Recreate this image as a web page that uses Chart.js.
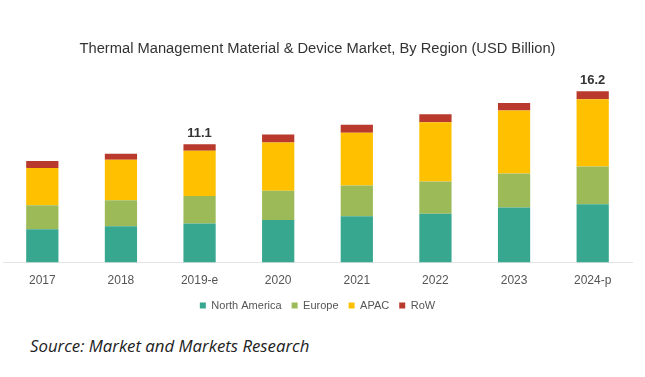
<!DOCTYPE html>
<html>
<head>
<meta charset="utf-8">
<script src="https://cdn.jsdelivr.net/npm/chart.js@4.4.0/dist/chart.umd.min.js"></script>
<style>
  html, body { margin: 0; padding: 0; background: #fff; }
  #wrap { position: relative; width: 645px; height: 377px; }
  #chart { position: absolute; left: 0; top: 0; }
  #source {
    position: absolute; left: 30px; top: 334px;
    font-family: "Open Sans", "Liberation Sans", sans-serif;
    font-style: italic; font-size: 16.8px; color: #222;
  }
</style>
</head>
<body>
<div id="wrap">
  <canvas id="chart" width="645" height="325"></canvas>
  <div id="source">Source: Market and Markets Research</div>
</div>
<script>
const years = ['2017', '2018', '2019-e', '2020', '2021', '2022', '2023', '2024-p'];
const northAmerica = [3.15, 3.43, 3.68, 4.02, 4.37, 4.6, 5.18, 5.49];
const europe = [2.25, 2.44, 2.6, 2.76, 2.9, 3.05, 3.22, 3.57];
const apac = [3.5, 3.82, 4.26, 4.54, 4.96, 5.57, 5.92, 6.32];
const row = [0.66, 0.56, 0.62, 0.75, 0.75, 0.75, 0.72, 0.75];
const totalLabels = ['', '', '11.1', '', '', '', '', '16.2'];

// draws the total above a few of the stacks
const totalsPlugin = {
  id: 'totals',
  afterDatasetsDraw(chart) {
    const ctx = chart.ctx;
    const meta = chart.getDatasetMeta(3);
    ctx.save();
    ctx.font = 'bold 13px "Liberation Sans", Arial, sans-serif';
    ctx.fillStyle = '#333';
    ctx.textAlign = 'center';
    ctx.textBaseline = 'bottom';
    totalLabels.forEach((t, i) => {
      if (!t) return;
      const bar = meta.data[i];
      ctx.fillText(t, bar.x, bar.y - 4);
    });
    ctx.restore();
  }
};

function ds(label, data, color) {
  return {
    label: label,
    data: data,
    backgroundColor: color,
    borderWidth: 0,
    barPercentage: 0.82,
    categoryPercentage: 0.5
  };
}

const chart = new Chart(document.getElementById('chart').getContext('2d'), {
  type: 'bar',
  data: {
    labels: years,
    datasets: [
      ds('North America', northAmerica, '#37A78F'),
      ds('Europe', europe, '#9CBB58'),
      ds('APAC', apac, '#FFC000'),
      ds('RoW', row, '#B93A2C')
    ]
  },
  options: {
    responsive: false,
    animation: false,
    layout: { padding: { left: 3, right: 13, top: 40, bottom: 4 } },
    plugins: {
      title: {
        display: true,
        text: 'Thermal Management Material & Device Market, By Region (USD Billion)',
        color: '#333',
        font: { family: '"Liberation Sans", Arial, sans-serif', size: 14.7, weight: 'normal' },
        padding: { top: 0, bottom: 16 }
      },
      legend: {
        position: 'bottom',
        labels: {
          color: '#555',
          font: { family: '"Liberation Sans", Arial, sans-serif', size: 11 },
          boxWidth: 6,
          boxHeight: 6,
          padding: 10
        }
      },
      tooltip: { enabled: false }
    },
    scales: {
      x: {
        stacked: true,
        grid: { display: false },
        border: { display: true, color: '#e4e4e4', width: 1 },
        ticks: {
          color: '#555',
          font: { family: '"Liberation Sans", Arial, sans-serif', size: 12 },
          padding: 2.5
        }
      },
      y: {
        stacked: true,
        display: false,
        min: 0,
        max: 17.8
      }
    }
  },
  plugins: [totalsPlugin]
});
</script>
</body>
</html>
